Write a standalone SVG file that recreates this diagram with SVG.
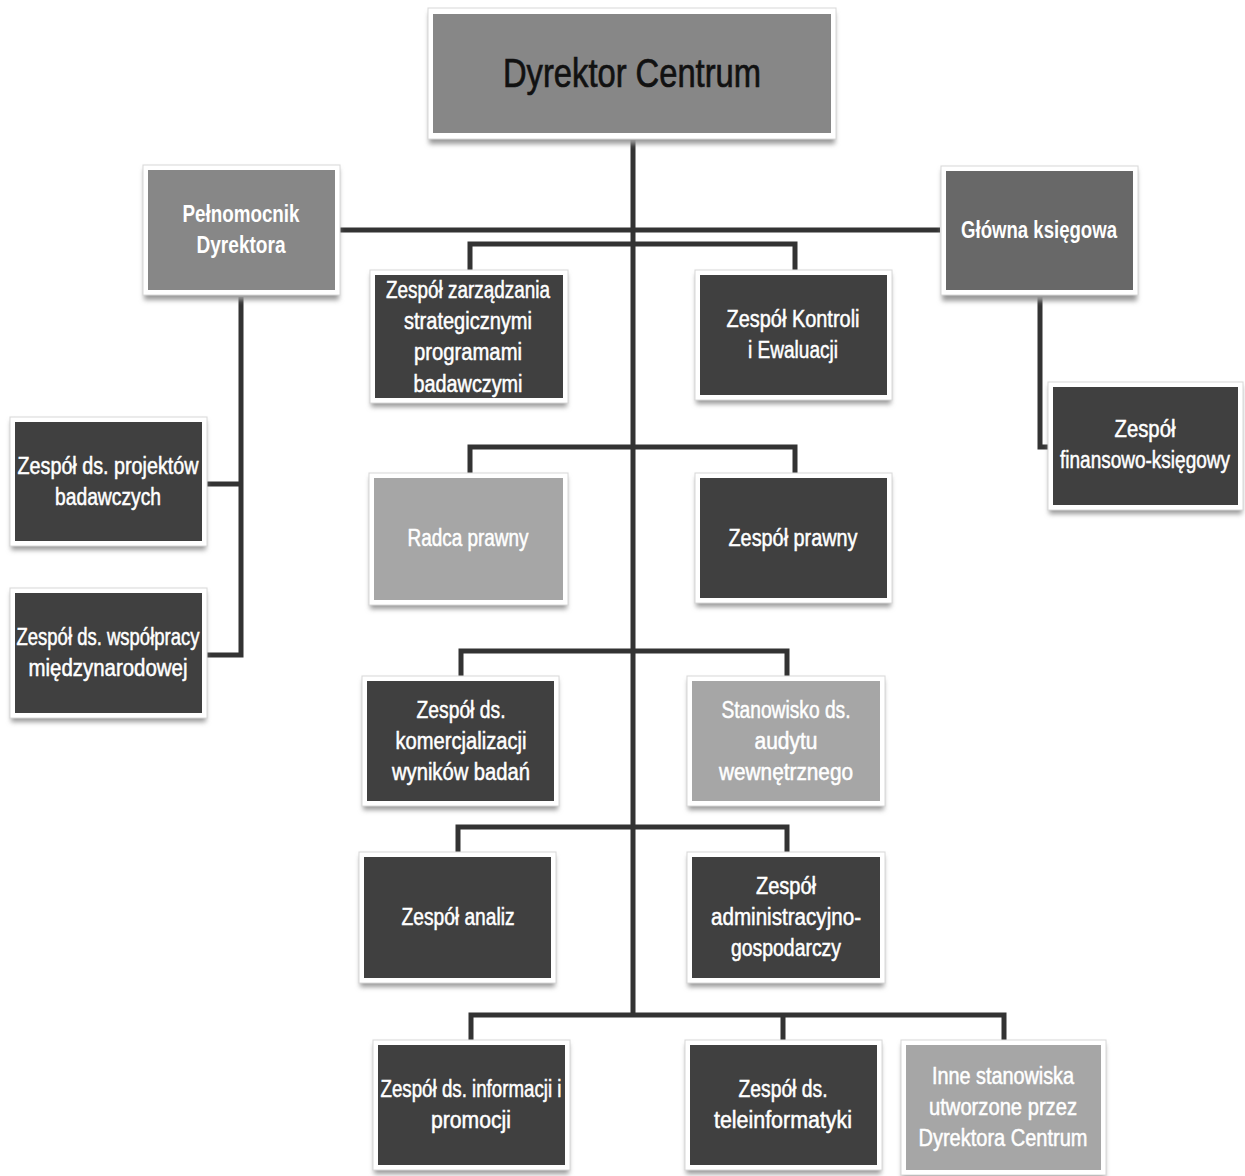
<svg xmlns="http://www.w3.org/2000/svg" width="1245" height="1176" viewBox="0 0 1245 1176">
<defs>
<filter id="sh" x="-10%" y="-10%" width="120%" height="130%">
<feGaussianBlur stdDeviation="2.5"/>
</filter>
<style>
.sh{fill:#9a9a9a;filter:url(#sh)}
.fr{fill:#ffffff;stroke:#d8d8d8;stroke-width:1}
.dk{fill:#404040}
.md{fill:#686868}
.gr{fill:#878787}
.lt{fill:#a6a6a6}
.t{font-family:"Liberation Sans Narrow","Liberation Sans",Arial,sans-serif;font-size:23px;fill:#ffffff;stroke:#ffffff;stroke-width:0.5;text-anchor:middle}
.b{font-weight:bold;stroke-width:0}
.big{font-size:40px;fill:#111111;stroke:#111111;stroke-width:0.7}
.c{fill:none;stroke:#333333;stroke-width:5;stroke-linejoin:miter}
</style>
</defs>
<rect width="1245" height="1176" fill="#ffffff"/>
<g id="connectors">
<path class="c" d="M633 140 V1015"/>
<path class="c" d="M340 230 H940"/>
<path class="c" d="M470 270 V244 H795 V270"/>
<path class="c" d="M470 473 V447 H795 V473"/>
<path class="c" d="M461 676 V651 H787 V676"/>
<path class="c" d="M458 852 V827 H787 V852"/>
<path class="c" d="M471 1040 V1015 H1004 V1040 M783 1015 V1040"/>
<path class="c" d="M241 297 V655 H205 M241 484 H205"/>
<path class="c" d="M1040 297 V447 H1050"/>
</g>
<g id="n-dyrektor">
<rect class="sh" x="429" y="13" width="406" height="131"/>
<rect class="fr" x="428" y="8" width="408" height="131"/>
<rect class="gr" x="433" y="14" width="398" height="119"/>
<text class="t big" x="632" y="87" textLength="258" lengthAdjust="spacingAndGlyphs">Dyrektor Centrum</text>
</g>
<g id="n-pelnomocnik">
<rect class="sh" x="144" y="169" width="195" height="131"/>
<rect class="fr" x="143" y="165" width="197" height="130"/>
<rect class="gr" x="148" y="170" width="187" height="120"/>
<text class="t b" x="241" y="222" textLength="117" lengthAdjust="spacingAndGlyphs">Pełnomocnik</text>
<text class="t b" x="241" y="253" textLength="89" lengthAdjust="spacingAndGlyphs">Dyrektora</text>
</g>
<g id="n-glowna">
<rect class="sh" x="942" y="170" width="195" height="131"/>
<rect class="fr" x="941" y="166" width="197" height="129"/>
<rect class="md" x="946" y="171" width="187" height="119"/>
<text class="t b" x="1039" y="238" textLength="156" lengthAdjust="spacingAndGlyphs">Główna księgowa</text>
</g>
<g id="n-zarzadzania">
<rect class="sh" x="371" y="274" width="196" height="133"/>
<rect class="fr" x="370" y="270" width="198" height="133"/>
<rect class="dk" x="375" y="275" width="188" height="123"/>
<text class="t" x="468" y="298" textLength="164" lengthAdjust="spacingAndGlyphs">Zespół zarządzania</text>
<text class="t" x="468" y="329" textLength="128" lengthAdjust="spacingAndGlyphs">strategicznymi</text>
<text class="t" x="468" y="360" textLength="108" lengthAdjust="spacingAndGlyphs">programami</text>
<text class="t" x="468" y="392" textLength="109" lengthAdjust="spacingAndGlyphs">badawczymi</text>
</g>
<g id="n-kontroli">
<rect class="sh" x="696" y="274" width="195" height="130"/>
<rect class="fr" x="695" y="270" width="197" height="130"/>
<rect class="dk" x="700" y="275" width="187" height="120"/>
<text class="t" x="793" y="327" textLength="133" lengthAdjust="spacingAndGlyphs">Zespół Kontroli</text>
<text class="t" x="793" y="358" textLength="90" lengthAdjust="spacingAndGlyphs">i Ewaluacji</text>
</g>
<g id="n-finansowo">
<rect class="sh" x="1049" y="386" width="193" height="128"/>
<rect class="fr" x="1048" y="382" width="195" height="128"/>
<rect class="dk" x="1053" y="387" width="185" height="118"/>
<text class="t" x="1145" y="437" textLength="61" lengthAdjust="spacingAndGlyphs">Zespół</text>
<text class="t" x="1145" y="468" textLength="170" lengthAdjust="spacingAndGlyphs">finansowo-księgowy</text>
</g>
<g id="n-projektow">
<rect class="sh" x="11" y="421" width="195" height="129"/>
<rect class="fr" x="10" y="417" width="197" height="129"/>
<rect class="dk" x="15" y="422" width="187" height="119"/>
<text class="t" x="108" y="474" textLength="181" lengthAdjust="spacingAndGlyphs">Zespół ds. projektów</text>
<text class="t" x="108" y="505" textLength="106" lengthAdjust="spacingAndGlyphs">badawczych</text>
</g>
<g id="n-wspolpracy">
<rect class="sh" x="11" y="592" width="195" height="130"/>
<rect class="fr" x="10" y="588" width="197" height="130"/>
<rect class="dk" x="15" y="593" width="187" height="120"/>
<text class="t" x="108" y="645" textLength="183" lengthAdjust="spacingAndGlyphs">Zespół ds. współpracy</text>
<text class="t" x="108" y="676" textLength="159" lengthAdjust="spacingAndGlyphs">międzynarodowej</text>
</g>
<g id="n-radca">
<rect class="sh" x="370" y="477" width="197" height="132"/>
<rect class="fr" x="369" y="473" width="199" height="132"/>
<rect class="lt" x="374" y="478" width="189" height="122"/>
<text class="t" x="468" y="546" textLength="121" lengthAdjust="spacingAndGlyphs">Radca prawny</text>
</g>
<g id="n-prawny">
<rect class="sh" x="696" y="477" width="195" height="130"/>
<rect class="fr" x="695" y="473" width="197" height="130"/>
<rect class="dk" x="700" y="478" width="187" height="120"/>
<text class="t" x="793" y="546" textLength="129" lengthAdjust="spacingAndGlyphs">Zespół prawny</text>
</g>
<g id="n-komercjalizacji">
<rect class="sh" x="363" y="680" width="195" height="130"/>
<rect class="fr" x="362" y="676" width="197" height="130"/>
<rect class="dk" x="367" y="681" width="187" height="120"/>
<text class="t" x="461" y="718" textLength="89" lengthAdjust="spacingAndGlyphs">Zespół ds.</text>
<text class="t" x="461" y="749" textLength="131" lengthAdjust="spacingAndGlyphs">komercjalizacji</text>
<text class="t" x="461" y="780" textLength="138" lengthAdjust="spacingAndGlyphs">wyników badań</text>
</g>
<g id="n-audytu">
<rect class="sh" x="688" y="680" width="196" height="130"/>
<rect class="fr" x="687" y="676" width="198" height="130"/>
<rect class="lt" x="692" y="681" width="188" height="120"/>
<text class="t" x="786" y="718" textLength="129" lengthAdjust="spacingAndGlyphs">Stanowisko ds.</text>
<text class="t" x="786" y="749" textLength="63" lengthAdjust="spacingAndGlyphs">audytu</text>
<text class="t" x="786" y="780" textLength="134" lengthAdjust="spacingAndGlyphs">wewnętrznego</text>
</g>
<g id="n-analiz">
<rect class="sh" x="360" y="856" width="195" height="131"/>
<rect class="fr" x="359" y="852" width="197" height="131"/>
<rect class="dk" x="364" y="857" width="187" height="121"/>
<text class="t" x="458" y="925" textLength="113" lengthAdjust="spacingAndGlyphs">Zespół analiz</text>
</g>
<g id="n-administracyjno">
<rect class="sh" x="688" y="856" width="196" height="131"/>
<rect class="fr" x="687" y="852" width="198" height="131"/>
<rect class="dk" x="692" y="857" width="188" height="121"/>
<text class="t" x="786" y="894" textLength="60" lengthAdjust="spacingAndGlyphs">Zespół</text>
<text class="t" x="786" y="925" textLength="150" lengthAdjust="spacingAndGlyphs">administracyjno-</text>
<text class="t" x="786" y="956" textLength="110" lengthAdjust="spacingAndGlyphs">gospodarczy</text>
</g>
<g id="n-informacji">
<rect class="sh" x="374" y="1044" width="195" height="130"/>
<rect class="fr" x="373" y="1040" width="197" height="130"/>
<rect class="dk" x="378" y="1045" width="187" height="120"/>
<text class="t" x="471" y="1097" textLength="181" lengthAdjust="spacingAndGlyphs">Zespół ds. informacji i</text>
<text class="t" x="471" y="1128" textLength="80" lengthAdjust="spacingAndGlyphs">promocji</text>
</g>
<g id="n-teleinformatyki">
<rect class="sh" x="686" y="1044" width="195" height="130"/>
<rect class="fr" x="685" y="1040" width="197" height="130"/>
<rect class="dk" x="690" y="1045" width="187" height="120"/>
<text class="t" x="783" y="1097" textLength="89" lengthAdjust="spacingAndGlyphs">Zespół ds.</text>
<text class="t" x="783" y="1128" textLength="138" lengthAdjust="spacingAndGlyphs">teleinformatyki</text>
</g>
<g id="n-inne">
<rect class="sh" x="902" y="1044" width="203" height="135"/>
<rect class="fr" x="901" y="1040" width="205" height="135"/>
<rect class="lt" x="906" y="1045" width="195" height="125"/>
<text class="t" x="1003" y="1084" textLength="142" lengthAdjust="spacingAndGlyphs">Inne stanowiska</text>
<text class="t" x="1003" y="1115" textLength="148" lengthAdjust="spacingAndGlyphs">utworzone przez</text>
<text class="t" x="1003" y="1146" textLength="169" lengthAdjust="spacingAndGlyphs">Dyrektora Centrum</text>
</g>
</svg>
